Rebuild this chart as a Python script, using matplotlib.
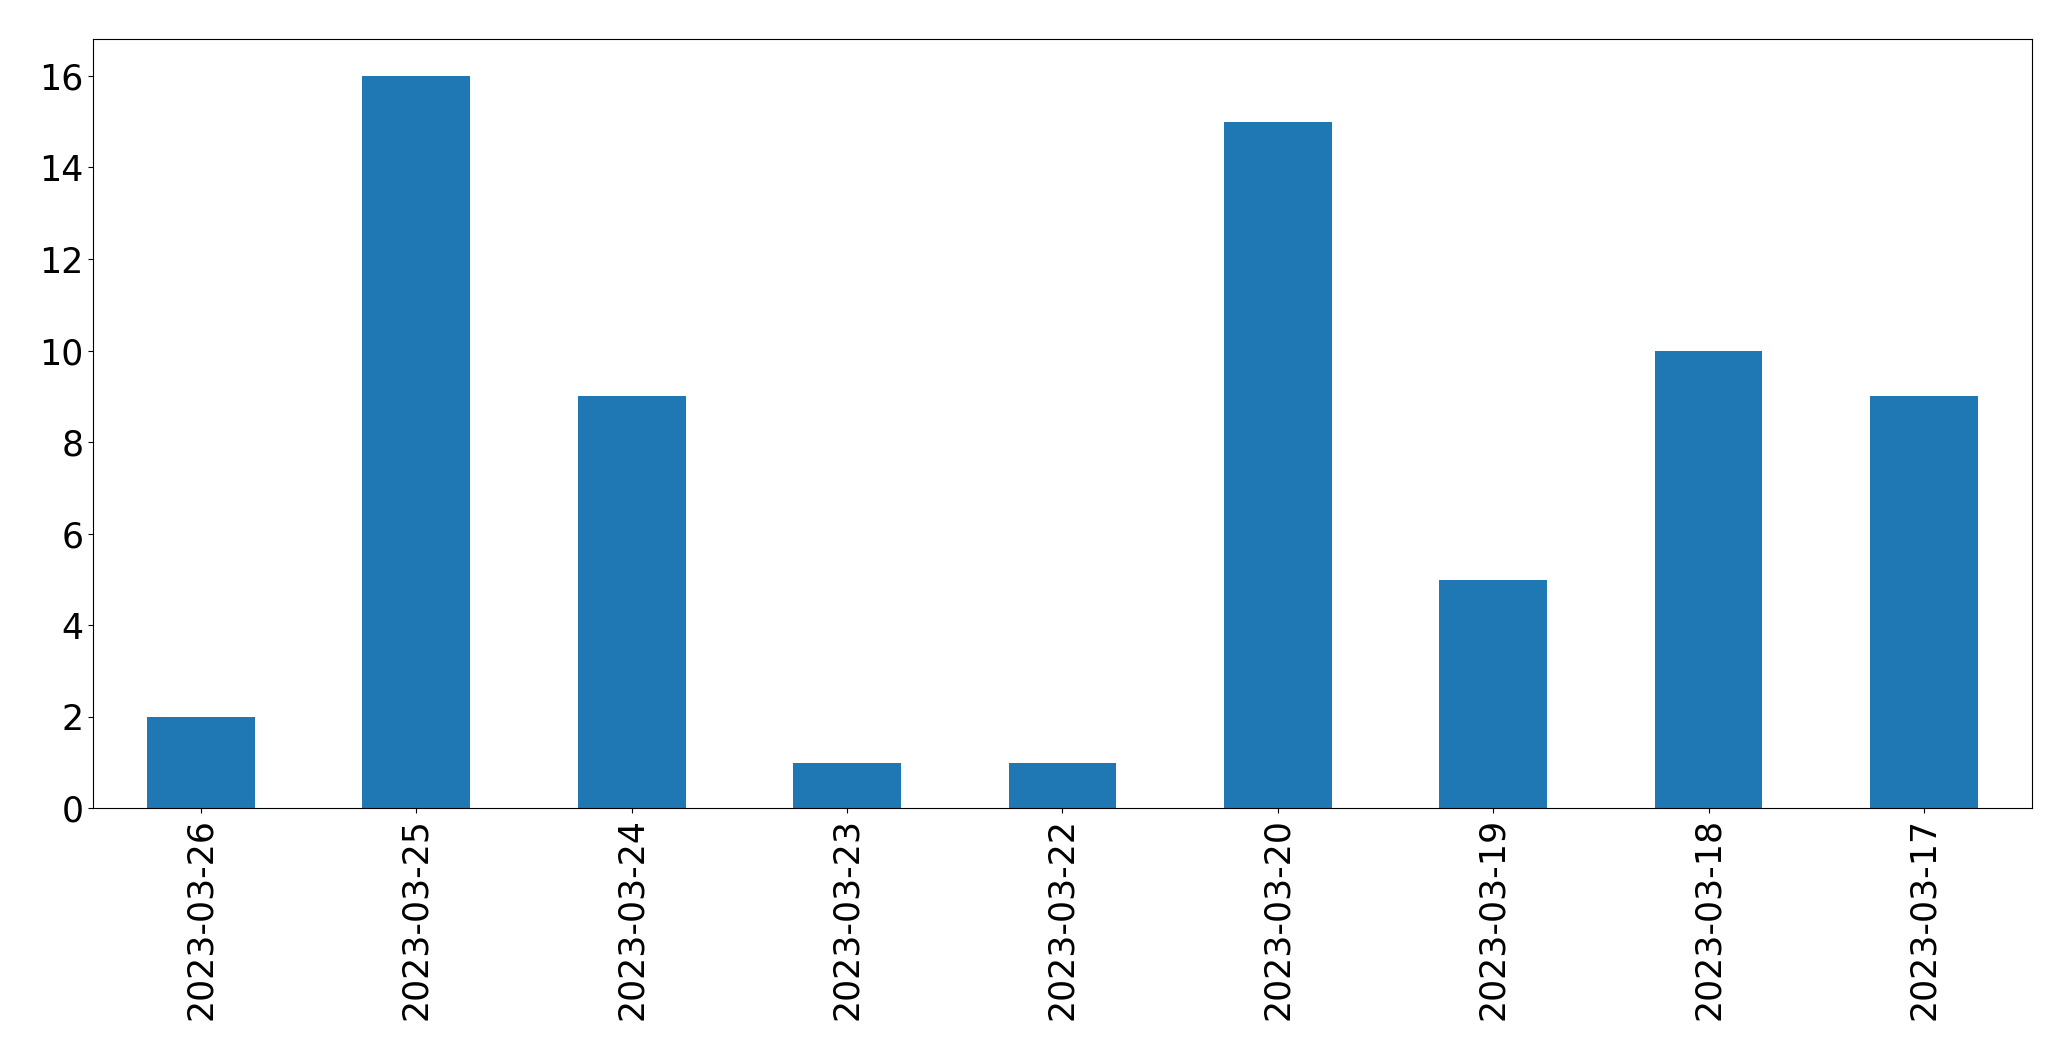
import matplotlib
matplotlib.use("Agg")
import matplotlib.pyplot as plt
import pandas as pd

# daily counts, in the order shown
dates = ["2023-03-26", "2023-03-25", "2023-03-24", "2023-03-23", "2023-03-22",
         "2023-03-20", "2023-03-19", "2023-03-18", "2023-03-17"]
counts = [2, 16, 9, 1, 1, 15, 5, 10, 9]

s = pd.Series(counts, index=dates)

fig = plt.figure(figsize=(20.71, 10.61), dpi=100)
ax = fig.add_axes([0.045, 0.238, 0.936, 0.725])
s.plot(kind="bar", ax=ax, color="#1f77b4")
ax.tick_params(axis="both", labelsize=25)

fig.savefig("out.png", dpi=100)
